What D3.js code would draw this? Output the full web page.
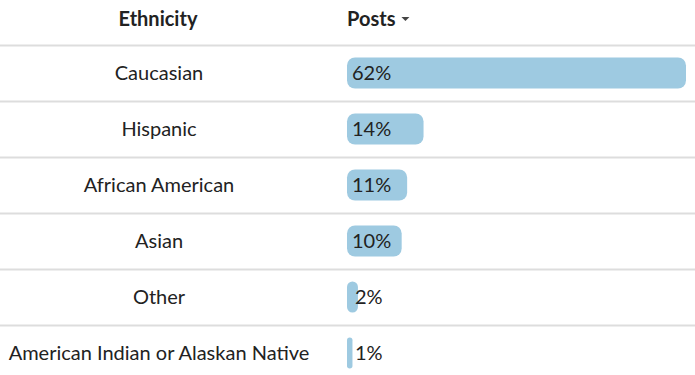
<!DOCTYPE html>
<html>
<head>
<meta charset="utf-8">
<script src="https://cdn.jsdelivr.net/npm/d3@7"></script>
<style>
  body { margin: 0; background: #fff; }
  svg text { font-family: Lato, "Open Sans", sans-serif; fill: #222; }
</style>
</head>
<body>
<svg></svg>
<script>
// ethnicity share of posts
var categories = ["Caucasian", "Hispanic", "African American", "Asian", "Other", "American Indian or Alaskan Native"];
var values = [62, 14, 11, 10, 2, 1];

var svgWidth = 695;
var svgHeight = 375;
var headerHeight = 45;
var rowHeight = 56;
var barStart = 347;
var barHeight = 31;

var svg = d3.select("svg").attr("width", svgWidth).attr("height", svgHeight);

var x = d3.scaleLinear().domain([0, 62]).range([0, 339]);
var y = d3.scaleBand().domain(categories).range([headerHeight, headerHeight + rowHeight * categories.length]);

// header
svg.append("text").attr("x", 158).attr("y", 26).attr("text-anchor", "middle")
    .attr("font-size", 20).attr("font-weight", "bold").text("Ethnicity");
var posts = svg.append("text").attr("x", 347).attr("y", 26)
    .attr("font-size", 20).attr("font-weight", "bold").text("Posts");
var px = 347 + posts.node().getComputedTextLength() + 6;
svg.append("path").attr("d", "M" + px + ",17 L" + (px + 8) + ",17 L" + (px + 4) + ",21 Z").attr("fill", "#444");

// row dividers
svg.selectAll("line.div")
    .data(categories)
    .enter()
    .append("line")
    .attr("class", "div")
    .attr("x1", 0).attr("x2", svgWidth)
    .attr("y1", function (d) { return y(d) + 0.5; })
    .attr("y2", function (d) { return y(d) + 0.5; })
    .attr("stroke", "#ddd").attr("stroke-width", 2);

var rows = svg.selectAll("g.row")
    .data(categories)
    .enter()
    .append("g")
    .attr("class", "row")
    .attr("transform", function (d) { return "translate(0," + (y(d) + y.bandwidth() / 2) + ")"; });

rows.append("text")
    .attr("x", 159).attr("dy", "0.35em").attr("text-anchor", "middle")
    .attr("font-size", 20)
    .text(function (d) { return d; });

rows.append("rect")
    .attr("x", barStart)
    .attr("y", -barHeight / 2)
    .attr("height", barHeight)
    .attr("width", function (d, i) { return x(values[i]); })
    .attr("rx", function (d, i) { return Math.min(8, x(values[i]) / 2); })
    .attr("fill", "#9ecae1");

rows.append("text")
    .attr("x", function (d, i) { return values[i] < 5 ? barStart + 8 : barStart + 5; })
    .attr("dy", "0.35em")
    .attr("font-size", 20)
    .text(function (d, i) { return values[i] + "%"; });
</script>
</body>
</html>
